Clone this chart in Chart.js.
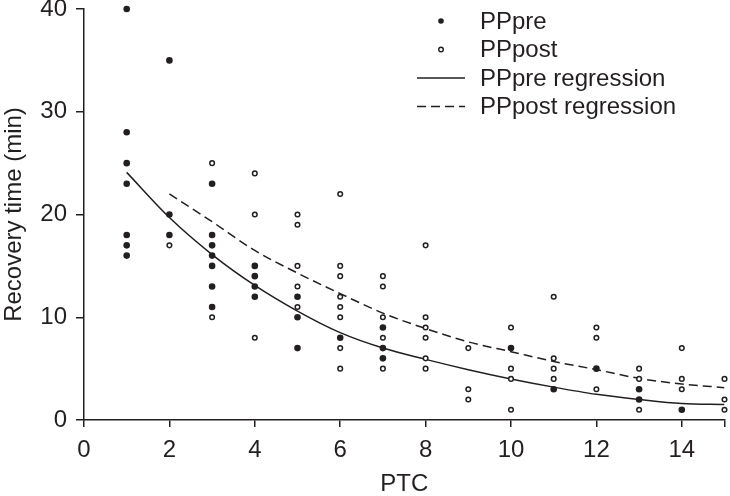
<!DOCTYPE html>
<html>
<head>
<meta charset="utf-8">
<script src="https://cdn.jsdelivr.net/npm/chart.js@4"></script>
<style>
  html, body { margin: 0; padding: 0; background: #fff; }
  #wrap { width: 730px; height: 496px; }
</style>
</head>
<body>
<div id="wrap"><canvas id="ptcChart" width="730" height="496"></canvas></div>
<script>
// PPpre (filled dots)
const preX = [1,1,1,1,1,1,1, 2,2,2, 3,3,3,3,3,3,3, 4,4,4,4, 5,5,5, 6, 7,7,7, 10, 11, 12, 13,13, 14];
const preY = [40,28,25,23,18,17,16, 35,20,18, 23,18,17,16,15,13,11, 15,14,13,12, 12,10,7, 8, 9,7,6, 7, 3, 5, 3,2, 1];

// PPpost (open circles)
const postX = [2, 3,3, 4,4,4, 5,5,5,5,5, 6,6,6,6,6,6,6,6, 7,7,7,7,7, 8,8,8,8,8,8, 9,9,9, 10,10,10,10, 11,11,11,11, 12,12,12, 13,13,13, 14,14,14, 15,15,15];
const postY = [17, 25,10, 24,20,8, 20,19,15,13,11, 22,15,14,12,11,10,7,5, 14,13,10,8,5, 17,10,9,8,6,5, 7,3,2, 9,5,4,1, 12,6,5,4, 9,8,3, 5,4,1, 7,4,3, 4,2,1];

// regression curves
const preRegX = [1,2,3,4,5,6,7,8,9,10,11,12,13,14,15];
const preRegY = [24.1,19.7,16.1,13.1,10.6,8.5,7.0,5.9,4.9,4.0,3.2,2.5,2.0,1.6,1.5];
const postRegX = [2,3,4,5,6,7,8,9,10,11,12,13,14,15];
const postRegY = [22.0,19.3,16.5,14.3,12.3,10.4,8.9,7.6,6.65,5.7,4.9,4.05,3.5,3.15];

const xTicks = [0,2,4,6,8,10,12,14,15];
const xTickLabels = ["0","2","4","6","8","10","12","14",""];
const yTicks = [0,10,20,30,40];

const seriesNames = ["PPpre", "PPpost", "PPpre regression", "PPpost regression"];

const ink = "#231f20";
const FONT = "'Liberation Sans', Arial, Helvetica, sans-serif";

const toPts = (xs, ys) => xs.map((x, i) => ({ x: x, y: ys[i] }));

// legend drawn inside the plot, top right
const insideLegend = {
    id: "insideLegend",
    afterDraw(chart, args, opts) {
        const c = chart.ctx;
        c.save();
        c.font = "24px " + FONT;
        c.fillStyle = ink;
        c.textBaseline = "middle";
        chart.data.datasets.forEach((ds, i) => {
            const y = opts.top + i * opts.rowGap;
            c.strokeStyle = ink;
            if (ds.showLine) {
                c.lineWidth = 1.5;
                c.setLineDash(ds.borderDash || []);
                c.beginPath();
                c.moveTo(opts.lineX0, y);
                c.lineTo(opts.lineX1, y);
                c.stroke();
                c.setLineDash([]);
            } else {
                c.beginPath();
                c.arc(opts.markX, y, ds.backgroundColor === "#fff" ? 2.3 : 2.8, 0, Math.PI * 2);
                if (ds.backgroundColor === "#fff") {
                    c.lineWidth = 1.4;
                    c.stroke();
                } else {
                    c.fill();
                }
            }
            c.fillStyle = ink;
            c.fillText(ds.label, opts.textX, y + 1);
        });
        c.restore();
    }
};

const ctx = document.getElementById("ptcChart").getContext("2d");

const ptcChart = new Chart(ctx, {
    type: "scatter",
    data: {
        datasets: [
            {
                label: seriesNames[0],
                data: toPts(preX, preY),
                backgroundColor: ink,
                borderWidth: 0,
                pointRadius: 3.3,
                clip: false
            },
            {
                label: seriesNames[1],
                data: toPts(postX, postY),
                backgroundColor: "#fff",
                borderColor: ink,
                borderWidth: 1.5,
                pointRadius: 2.3,
                clip: false
            },
            {
                label: seriesNames[2],
                data: toPts(preRegX, preRegY),
                showLine: true,
                borderColor: ink,
                borderWidth: 1.5,
                pointRadius: 0,
                cubicInterpolationMode: "monotone",
                fill: false
            },
            {
                label: seriesNames[3],
                data: toPts(postRegX, postRegY),
                showLine: true,
                borderColor: ink,
                borderWidth: 1.5,
                borderDash: [9, 5],
                pointRadius: 0,
                cubicInterpolationMode: "monotone",
                fill: false
            }
        ]
    },
    options: {
        responsive: false,
        animation: false,
        devicePixelRatio: 1,
        layout: { padding: { top: 9, right: 5, left: 0, bottom: 0 } },
        scales: {
            x: {
                type: "linear",
                min: 0,
                max: 15,
                afterBuildTicks: scale => { scale.ticks = xTicks.map(v => ({ value: v })); },
                afterFit: scale => { scale.height = 76; scale.paddingRight = 0; scale.paddingLeft = 0; },
                ticks: {
                    color: ink,
                    padding: 11,
                    maxRotation: 0,
                    autoSkip: false,
                    font: { family: FONT, size: 24, lineHeight: 1 },
                    callback: (v) => xTickLabels[xTicks.indexOf(v)]
                },
                grid: { display: true, drawOnChartArea: false, drawTicks: true, tickLength: 7, color: ink, lineWidth: 1.5 },
                border: { display: true, color: ink, width: 1.5 },
                title: {
                    display: true,
                    text: "PTC",
                    color: ink,
                    font: { family: FONT, size: 24, lineHeight: 1 },
                    padding: { top: 0, bottom: 0 }
                }
            },
            y: {
                min: 0,
                max: 40,
                afterBuildTicks: scale => { scale.ticks = yTicks.map(v => ({ value: v })); },
                afterFit: scale => { scale.width = 84; scale.paddingTop = 0; scale.paddingBottom = 0; },
                ticks: {
                    color: ink,
                    padding: 9,
                    font: { family: FONT, size: 24, lineHeight: 0.75 }
                },
                grid: { display: true, drawOnChartArea: false, drawTicks: true, tickLength: 8, color: ink, lineWidth: 1.5 },
                border: { display: true, color: ink, width: 1.5 },
                title: {
                    display: true,
                    text: "Recovery time (min)",
                    color: ink,
                    font: { family: FONT, size: 24, lineHeight: 1.2 },
                    padding: { top: 0, bottom: 0 }
                }
            }
        },
        plugins: {
            legend: { display: false },
            tooltip: { enabled: false },
            insideLegend: { top: 21, rowGap: 28.5, markX: 441, lineX0: 417, lineX1: 465, textX: 480 }
        }
    },
    plugins: [insideLegend]
});
</script>
</body>
</html>
